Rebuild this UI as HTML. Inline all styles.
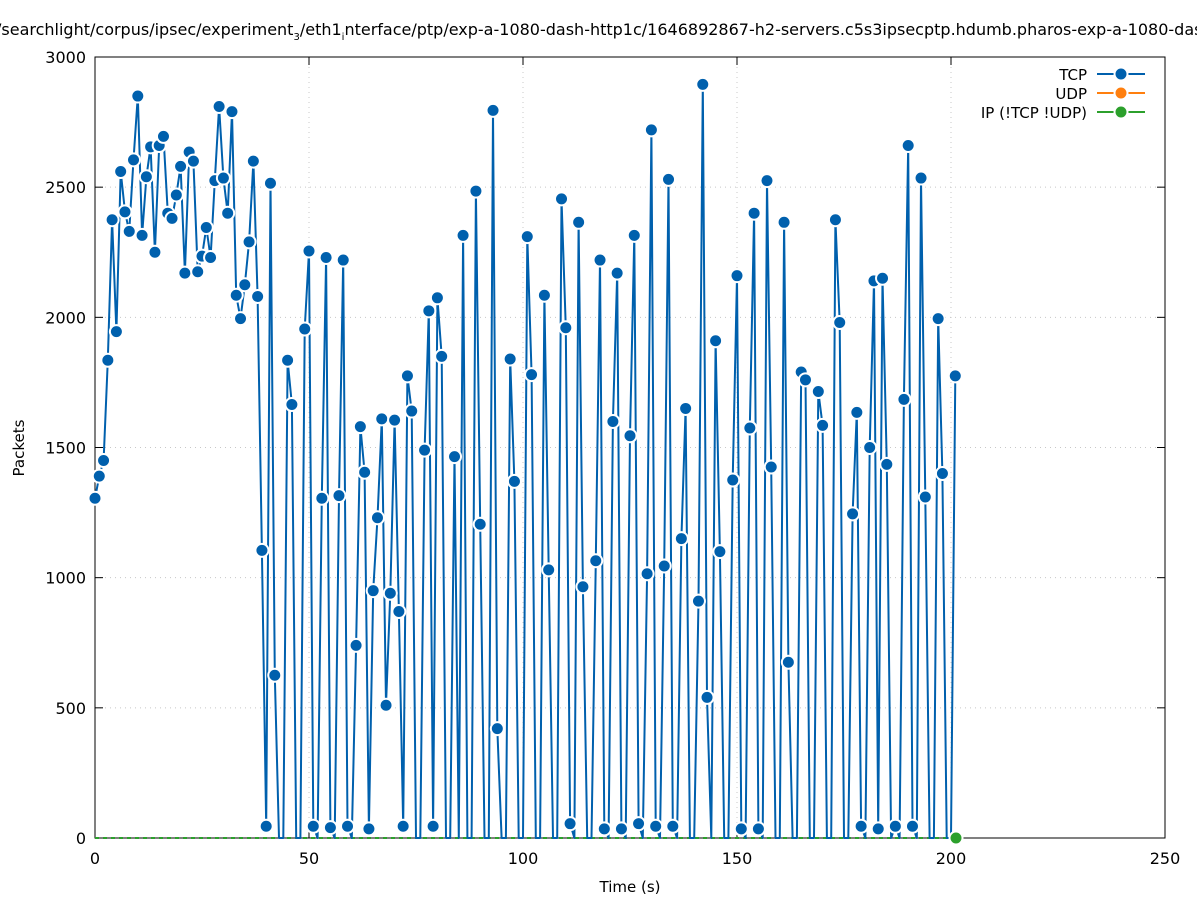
<!DOCTYPE html>
<html><head><meta charset="utf-8"><style>
html,body{margin:0;padding:0;background:#fff;}
svg{display:block;font-family:"DejaVu Sans","Liberation Sans",sans-serif;}
</style></head><body>
<svg id="s" width="1197" height="900" viewBox="0 0 1197 900" xmlns="http://www.w3.org/2000/svg">
<rect width="1197" height="900" fill="#fff"/>
<g id="grid" stroke="#c8c8c8" stroke-width="1" stroke-dasharray="1,4"></g>
<rect x="95" y="57" width="1070" height="781" fill="none" stroke="#000" stroke-width="1"/>
<g id="ticks" stroke="#000" stroke-width="1"></g>
<g id="labels" font-size="16" fill="#000"></g>
<text x="-4" y="35" font-size="16" fill="#000">/searchlight/corpus/ipsec/experiment<tspan font-size="10" dy="5">3</tspan><tspan dy="-5">/eth1</tspan><tspan font-size="10" dy="5">i</tspan><tspan dy="-5">nterface/ptp/exp-a-1080-dash-http1c/1646892867-h2-servers.c5s3ipsecptp.hdumb.pharos-exp-a-1080-dash</tspan></text>
<text x="630" y="892" font-size="15" text-anchor="middle">Time (s)</text>
<text transform="translate(24,448) rotate(-90)" font-size="15" text-anchor="middle">Packets</text>
<line x1="95" y1="838" x2="956" y2="838" stroke="#2ca02c" stroke-width="2" stroke-dasharray="4,4"/>
<g id="series"></g>
<circle cx="956" cy="838" r="6.5" fill="#2ca02c" stroke="#fff" stroke-width="2"/>
<g font-size="15" text-anchor="end">
<text x="1087" y="80">TCP</text>
<text x="1087" y="99">UDP</text>
<text x="1087" y="118">IP (!TCP  !UDP)</text>
<line x1="1097" y1="74" x2="1145" y2="74" stroke="#0060ad" stroke-width="2"/>
<circle cx="1121" cy="74" r="6.5" fill="#0060ad" stroke="#fff" stroke-width="2"/>
<line x1="1097" y1="93" x2="1145" y2="93" stroke="#ff7f0e" stroke-width="2"/>
<circle cx="1121" cy="93" r="6.5" fill="#ff7f0e" stroke="#fff" stroke-width="2"/>
<line x1="1097" y1="112" x2="1145" y2="112" stroke="#2ca02c" stroke-width="2"/>
<circle cx="1121" cy="112" r="6.5" fill="#2ca02c" stroke="#fff" stroke-width="2"/>
</g>
</svg>
<script>
var NS="http://www.w3.org/2000/svg";
function el(t,a,p){var e=document.createElementNS(NS,t);for(var k in a)e.setAttribute(k,a[k]);if(p)p.appendChild(e);return e;}
var X=function(t){return 95+t*4.28;}, Y=function(v){return 838-v*781/3000;};
var g=document.getElementById('grid'),tk=document.getElementById('ticks'),lb=document.getElementById('labels');
for(var i=0;i<=250;i+=50){var x=X(i);if(i>0&&i<250)el('line',{x1:x,y1:57,x2:x,y2:838},g);
el('line',{x1:x,y1:838,x2:x,y2:830},tk);el('line',{x1:x,y1:57,x2:x,y2:65},tk);
var t=el('text',{x:x,y:864,'text-anchor':'middle'},lb);t.textContent=i;}
for(var v=0;v<=3000;v+=500){var y=Y(v);if(v>0&&v<3000)el('line',{x1:95,y1:y,x2:1165,y2:y},g);
el('line',{x1:95,y1:y,x2:103,y2:y},tk);el('line',{x1:1165,y1:y,x2:1157,y2:y},tk);
var t=el('text',{x:86,y:y+6,'text-anchor':'end'},lb);t.textContent=v;}
var d={0:1305,1:1390,2:1450,3:1835,4:2375,5:1945,6:2560,7:2405,8:2330,9:2605,10:2850,11:2315,12:2540,13:2655,14:2250,15:2660,16:2695,17:2400,18:2380,19:2470,20:2580,21:2170,22:2635,23:2600,24:2175,25:2235,26:2345,27:2230,28:2525,29:2810,30:2535,31:2400,32:2790,33:2085,34:1995,35:2125,36:2290,37:2600,38:2080,39:1105,40:45,41:2515,42:625,45:1835,46:1665,49:1955,50:2255,51:45,53:1305,54:2230,55:40,57:1315,58:2220,59:45,61:740,62:1580,63:1405,64:35,65:950,66:1230,67:1610,68:510,69:940,70:1605,71:870,72:45,73:1775,74:1640,77:1490,78:2025,79:45,80:2075,81:1850,84:1465,86:2315,89:2485,90:1205,93:2795,94:420,97:1840,98:1370,101:2310,102:1780,105:2085,106:1030,109:2455,110:1960,111:55,113:2365,114:965,117:1065,118:2220,119:35,121:1600,122:2170,123:35,125:1545,126:2315,127:55,129:1015,130:2720,131:45,133:1045,134:2530,135:45,137:1150,138:1650,141:910,142:2895,143:540,145:1910,146:1100,149:1375,150:2160,151:35,153:1575,154:2400,155:35,157:2525,158:1425,161:2365,162:675,165:1790,166:1760,169:1715,170:1585,173:2375,174:1980,177:1245,178:1635,179:45,181:1500,182:2140,183:35,184:2150,185:1435,187:45,189:1685,190:2660,191:45,193:2535,194:1310,197:1995,198:1400,201:1775};
var s=document.getElementById('series'),pts=[];
for(var i=0;i<=201;i++){var v=d[i]||0;pts.push(X(i).toFixed(1)+','+Y(v).toFixed(1));}
el('polyline',{points:pts.join(' '),fill:'none',stroke:'#0060ad','stroke-width':2,'stroke-linejoin':'round'},s);
for(var i=0;i<=201;i++){if(d[i])el('circle',{cx:X(i),cy:Y(d[i]),r:6.5,fill:'#0060ad',stroke:'#fff','stroke-width':2},s);}
</script>
</body></html>
